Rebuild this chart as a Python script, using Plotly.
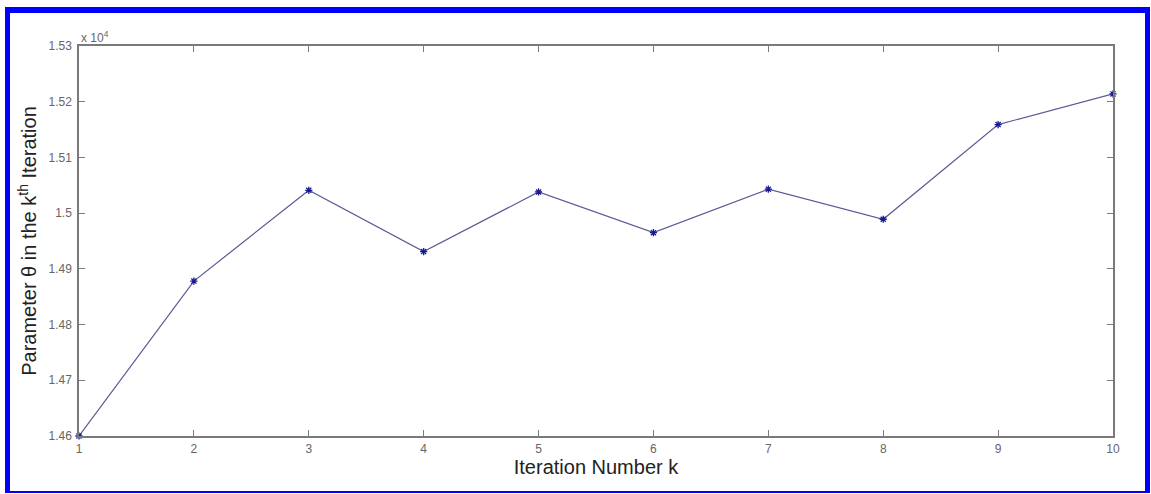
import plotly.graph_objects as go

# ---- data ----
iterations = [1, 2, 3, 4, 5, 6, 7, 8, 9, 10]
theta = [14600, 14878, 15041, 14931, 15038, 14965, 15043, 14989, 15159, 15214]
y_tick_vals = [14600, 14700, 14800, 14900, 15000, 15100, 15200, 15300]
y_tick_text = ["1.46", "1.47", "1.48", "1.49", "1.5", "1.51", "1.52", "1.53"]
x_tick_vals = [1, 2, 3, 4, 5, 6, 7, 8, 9, 10]

W, H = 1151, 494
L, R, T, B = 79, 38, 46, 58
pw, ph = W - L - R, H - T - B

def px(x):
    return (x - L) / pw

def py(y):
    return (H - B - y) / ph

FONT = "Liberation Sans, Arial, sans-serif"

fig = go.Figure()
fig.add_trace(go.Scatter(
    x=iterations, y=theta, mode="lines+markers",
    line=dict(color="rgb(90,90,150)", width=1.2),
    marker=dict(symbol="asterisk-open", size=6, color="rgb(25,25,150)",
                line=dict(color="rgb(25,25,150)", width=1.3)),
    showlegend=False, cliponaxis=False,
))

axis_common = dict(
    showgrid=False, zeroline=False, showline=True, linecolor="#7a7a7a", linewidth=1.5,
    mirror="ticks", ticks="inside", ticklen=6, tickwidth=1, tickcolor="#7a7a7a",
    tickfont=dict(family=FONT, size=12, color="#666666"),
)

fig.update_xaxes(
    range=[1, 10], tickvals=x_tick_vals, ticklabelstandoff=1,
    title=dict(text="Iteration Number k", standoff=4,
               font=dict(family=FONT, size=20, color="#222222")),
    **axis_common,
)
fig.update_yaxes(
    range=[14600, 15300], tickvals=y_tick_vals, ticktext=y_tick_text, ticklabelstandoff=3,
    title=dict(text="Parameter \u03b8 in the k<sup>th</sup> Iteration", standoff=6,
               font=dict(family=FONT, size=20, color="#222222")),
    **axis_common,
)

fig.add_annotation(
    x=px(79), y=py(37), xref="paper", yref="paper", xanchor="left", yanchor="middle",
    text="x 10<sup>4</sup>", showarrow=False,
    font=dict(family=FONT, size=12, color="#666666"),
)

blue = "rgb(0,0,255)"
borders = [
    (5, 7, 10, 493),      # left
    (5, 7, 1150, 13),     # top
    (1145, 7, 1150, 493), # right
    (5, 491, 1150, 493),  # bottom
]
for x0, y0, x1, y1 in borders:
    fig.add_shape(type="rect", xref="paper", yref="paper",
                  x0=px(x0), x1=px(x1), y0=py(y1), y1=py(y0),
                  fillcolor=blue, line=dict(width=0), layer="above")

fig.update_layout(
    width=W, height=H, margin=dict(l=L, r=R, t=T, b=B),
    paper_bgcolor="white", plot_bgcolor="white",
)

fig.write_html("out.html", config={"displayModeBar": False},
               post_script="document.body.style.margin='0';document.body.style.overflow='hidden';")
